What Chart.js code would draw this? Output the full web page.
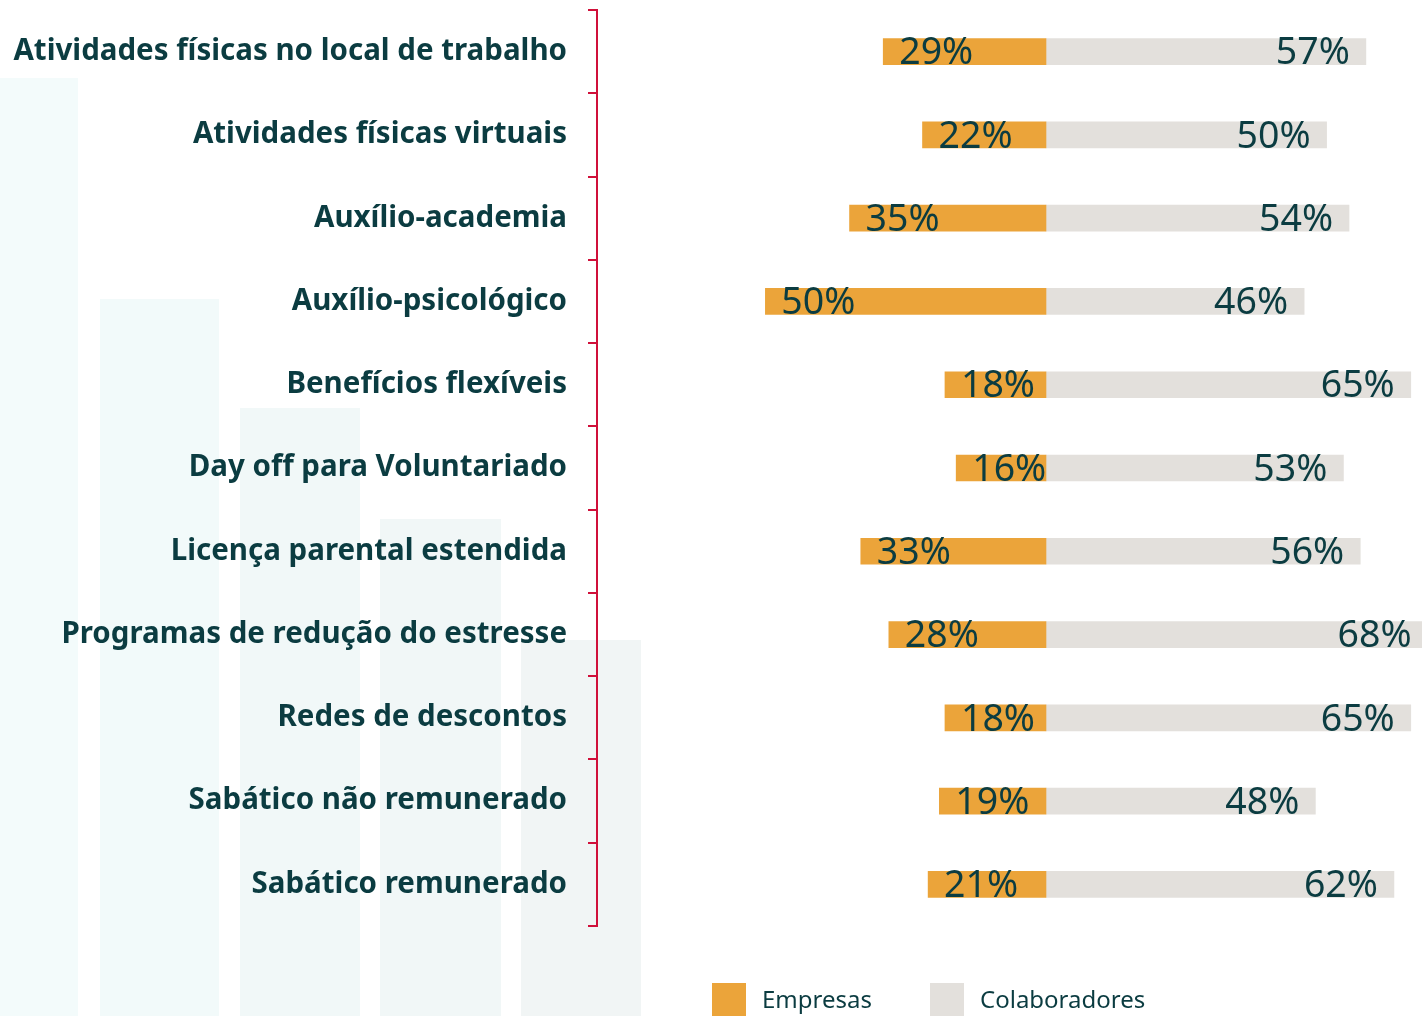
<!DOCTYPE html>
<html>
<head>
<meta charset="utf-8">
<script src="https://cdn.jsdelivr.net/npm/chart.js@4/dist/chart.umd.min.js"></script>
<style>
  html, body { margin: 0; padding: 0; background: #fff; overflow: hidden; }
  #wrap { position: relative; width: 1422px; height: 1016px; }
</style>
</head>
<body>
<div id="wrap"><canvas id="benefits-chart"></canvas></div>
<script>
const categories = [
    "Atividades físicas no local de trabalho",
    "Atividades físicas virtuais",
    "Auxílio-academia",
    "Auxílio-psicológico",
    "Benefícios flexíveis",
    "Day off para Voluntariado",
    "Licença parental estendida",
    "Programas de redução do estresse",
    "Redes de descontos",
    "Sabático não remunerado",
    "Sabático remunerado"
];
const empresas = [29, 22, 35, 50, 18, 16, 33, 28, 18, 19, 21];
const colaboradores = [57, 50, 54, 46, 65, 53, 56, 68, 65, 48, 62];

const textColor = "#0b3c41";
const orange = "#eba43a";
const grey = "#e3e0dc";
const red = "#d0103a";

// faint backdrop columns behind the labels
const backdrop = {
    id: "backdrop",
    beforeDraw(chart) {
        const ctx = chart.ctx;
        const cols = [[0, 78, 78], [100, 219, 299], [240, 360, 408], [380, 501, 519], [521, 641, 640]];
        const fills = ["#f3fbfb", "#f2fafa", "#f1f8f8", "#f1f7f7", "#f1f5f5"];
        ctx.save();
        ctx.fillStyle = "#fff";
        ctx.fillRect(0, 0, chart.width, chart.height);
        cols.forEach((c, i) => {
            ctx.fillStyle = fills[i];
            ctx.fillRect(c[0], c[2], c[1] - c[0], chart.height - c[2]);
        });
        ctx.restore();
    }
};

// percentage labels inside the bar ends
const valueLabels = {
    id: "valueLabels",
    afterDatasetsDraw(chart) {
        const ctx = chart.ctx;
        ctx.save();
        ctx.font = "37.5px 'Noto Sans'";
        ctx.fillStyle = textColor;
        ctx.textBaseline = "middle";
        chart.data.datasets.forEach((ds, di) => {
            chart.getDatasetMeta(di).data.forEach((bar, i) => {
                const v = Math.abs(ds.data[i]);
                if (di === 0) {
                    ctx.textAlign = "left";
                    ctx.fillText(v + "%", bar.x + 16, bar.y + 2);
                } else {
                    ctx.textAlign = "right";
                    ctx.fillText(v + "%", bar.x - 16, bar.y + 2);
                }
            });
        });
        ctx.restore();
    }
};

// legend at the bottom
const bottomLegend = {
    id: "bottomLegend",
    afterDraw(chart) {
        const ctx = chart.ctx;
        const spots = [712, 930];
        ctx.save();
        ctx.font = "24px 'Noto Sans'";
        ctx.textBaseline = "middle";
        ctx.textAlign = "left";
        chart.data.datasets.forEach((ds, i) => {
            ctx.fillStyle = ds.backgroundColor;
            ctx.fillRect(spots[i], 983, 34, 34);
            ctx.fillStyle = textColor;
            ctx.fillText(ds.label, spots[i] + 50, 1001);
        });
        ctx.restore();
    }
};

new Chart(document.getElementById("benefits-chart"), {
    type: "bar",
    data: {
        labels: categories,
        datasets: [{
            label: "Empresas",
            backgroundColor: orange,
            data: empresas.map(v => -v),
            barThickness: 26,
            clip: false
        }, {
            label: "Colaboradores",
            backgroundColor: grey,
            data: colaboradores,
            barThickness: 26,
            clip: false
        }]
    },
    options: {
        indexAxis: "y",
        maintainAspectRatio: false,
        responsive: true,
        animation: false,
        layout: {padding: {top: 10, bottom: 90, left: 0, right: 0}},
        scales: {
            x: {
                stacked: true,
                min: -80,
                max: 67,
                display: false
            },
            y: {
                stacked: true,
                afterFit(scale) {
                    scale.width = 597;
                    scale.paddingTop = 0;
                    scale.paddingBottom = 0;
                },
                grid: {
                    drawOnChartArea: false,
                    drawTicks: true,
                    tickLength: 9,
                    color: red,
                    lineWidth: 2
                },
                border: {color: red, width: 2},
                ticks: {
                    padding: 21,
                    color: textColor,
                    font: {family: "'Noto Sans'", size: 29.5, weight: "bold"}
                }
            }
        },
        plugins: {
            legend: {display: false},
            tooltip: {enabled: false}
        }
    },
    plugins: [backdrop, valueLabels, bottomLegend]
});
</script>
</body>
</html>
